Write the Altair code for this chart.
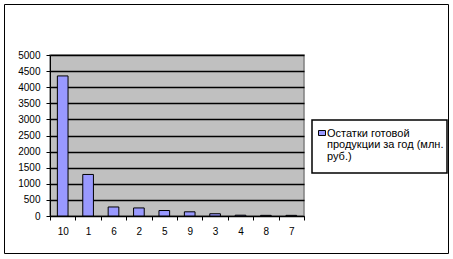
import altair as alt
import pandas as pd

categories = ["10", "1", "6", "2", "5", "9", "3", "4", "8", "7"]
values = [4350, 1290, 280, 250, 170, 130, 70, 25, 20, 20]
legend_lines = ["Остатки готовой", "продукции за год (млн.", "руб.)"]
y_ticks = [0, 500, 1000, 1500, 2000, 2500, 3000, 3500, 4000, 4500, 5000]

df = pd.DataFrame({"cat": categories, "val": values})

W, H = 254, 161
PL, PT = 50, 55
FONT = "Liberation Sans"

bars = alt.Chart(df).mark_bar(
    color="#9999FF", stroke="black", strokeWidth=1, width=alt.RelativeBandSize(0.42)
).encode(
    x=alt.X("cat:N", sort=categories, title=None,
            scale=alt.Scale(paddingInner=0, paddingOuter=0),
            axis=alt.Axis(tickBand="extent", labelAngle=0, domainColor="black",
                          tickColor="black", tickSize=4, labelFont=FONT,
                          labelFontSize=10, labelColor="black", labelPadding=6,
                          grid=False)),
    y=alt.Y("val:Q", title=None,
            scale=alt.Scale(domain=[0, 5000], nice=False),
            axis=alt.Axis(values=y_ticks, format="d", domainColor="black",
                          tickColor="black", tickSize=4, labelFont=FONT,
                          labelFontSize=10, labelColor="black", labelPadding=6,
                          grid=True, gridColor="black", gridWidth=1.3, gridOpacity=1)),
)

one = pd.DataFrame({"a": [0]})

# outer frame
frame = alt.Chart(one).mark_rect(
    fill=None, stroke="black", strokeWidth=1
).encode(
    x=alt.value(4.5 - PL), x2=alt.value(448.5 - PL),
    y=alt.value(4.5 - PT), y2=alt.value(253.5 - PT),
)

# legend box
lbox = alt.Chart(one).mark_rect(
    fill="white", stroke="black", strokeWidth=1.5
).encode(
    x=alt.value(312 - PL), x2=alt.value(447 - PL),
    y=alt.value(120 - PT), y2=alt.value(173 - PT),
)
lsym = alt.Chart(one).mark_rect(
    fill="#9999FF", stroke="black", strokeWidth=1
).encode(
    x=alt.value(318.5 - PL), x2=alt.value(325.5 - PL),
    y=alt.value(130.5 - PT), y2=alt.value(135.5 - PT),
)

ltexts = []
for k, line in enumerate(legend_lines):
    ltexts.append(
        alt.Chart(pd.DataFrame({"t": [line]})).mark_text(
            align="left", baseline="middle", font=FONT, fontSize=11, color="black"
        ).encode(x=alt.value(327 - PL), y=alt.value(133.5 - PT + k * 11.5), text="t:N")
    )

chart = alt.layer(frame, bars, lbox, lsym, *ltexts).properties(
    width=W, height=H,
    autosize=alt.AutoSizeParams(type="none"),
    padding={"left": PL, "top": PT, "right": 453 - PL - W, "bottom": 259 - PT - H},
    background="white",
).configure_view(
    fill="#C0C0C0", stroke="#808080", strokeWidth=1.5
)

chart.save("out.html", embed_options={"renderer": "svg", "actions": False})
